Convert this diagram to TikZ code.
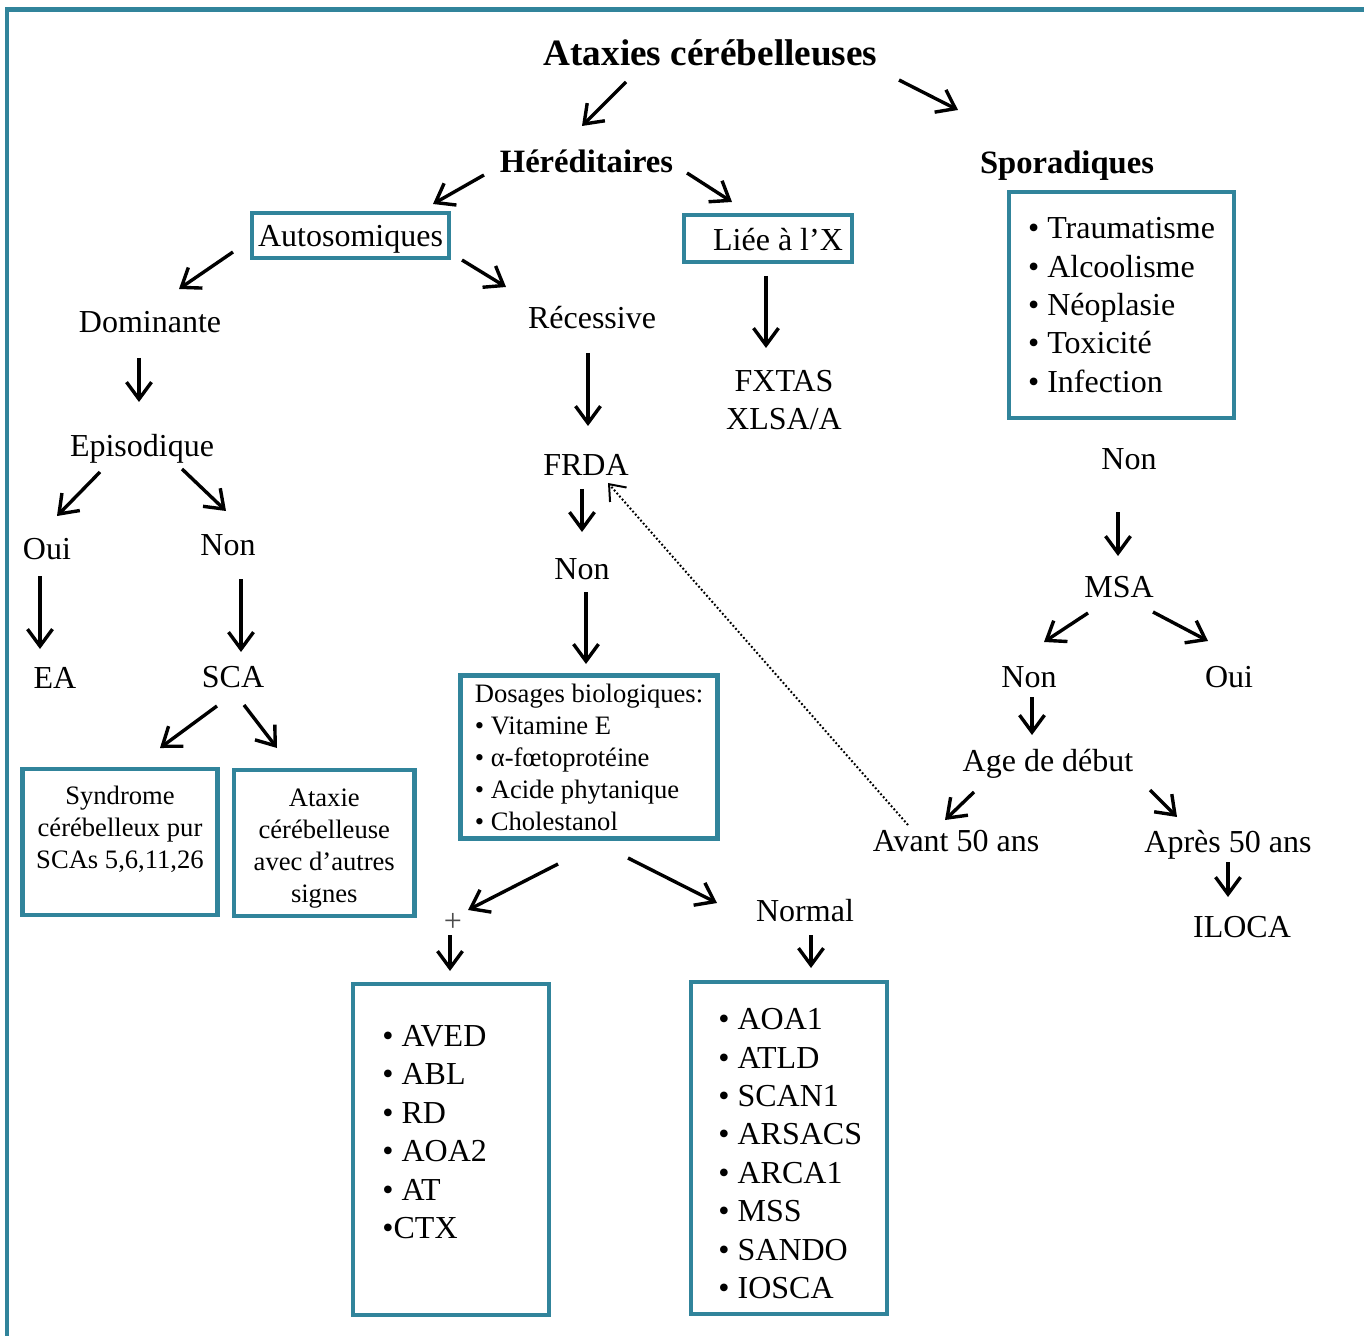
\documentclass[tikz,border=0pt]{standalone}
\usepackage{fontspec}
\setmainfont{Liberation Serif}
\usetikzlibrary{arrows.meta,calc}
\definecolor{framecol}{HTML}{31849B}

\begin{document}
\begin{tikzpicture}[x=0.5pt,y=-0.5pt,
    txt/.style={font=\fontsize{16}{19.2}\selectfont, align=center, inner sep=0pt, text depth=0pt},
    small/.style={font=\fontsize{13.3}{16}\selectfont, align=center, inner sep=0pt},
    head/.style={font=\fontsize{16.3}{20}\selectfont\bfseries, inner sep=0pt, text depth=0pt},
    box/.style={draw=framecol, line width=2.2pt, inner sep=0pt},
    arr/.style={-{Straight Barb[length=8.5pt,width=12.5pt]}, line width=1.7pt},
    hint/.style={-{Straight Barb[length=7pt,width=11pt]}, line width=1pt, dash pattern=on 0.9pt off 1.1pt}]

    \useasboundingbox (0,0) rectangle (1364,1336);

    % Outer frame (top and left only)
    \draw[framecol, line width=2.25pt] (7,1336) -- (7,9.5) -- (1364,9.5);

    % Top levels
    \node[font=\fontsize{18.6}{22}\selectfont\bfseries, inner sep=0pt] (title) at (710.5,53) {Ataxies cérébelleuses};
    \node[head] (her) at (586.5,161) {Héréditaires};
    \node[head] (spor) at (1067,162) {Sporadiques};

    % Hereditary branch
    \node[box, txt, minimum width=98.5pt, minimum height=22.5pt] (autos) at (350.5,235.5) {Autosomiques};
    \node[box, minimum width=84pt, minimum height=23.5pt] (lieebox) at (768,238.5) {};
    \node[txt] (lieetxt) at (778,239) {Liée à l’X};
    \node[txt] (dom) at (150,322) {Dominante};
    \node[txt] (rec) at (592,317) {Récessive};
    \node[txt] (fxtas) at (784,400) {FXTAS\\XLSA/A};
    \node[txt] (epis) at (142,445) {Episodique};
    \node[txt] (frda) at (586,465) {FRDA};
    \node[txt] (oui1) at (47,549) {Oui};
    \node[txt] (non1) at (228,545) {Non};
    \node[txt] (non2) at (582,569) {Non};
    \node[txt] (ea) at (55,678) {EA};
    \node[txt] (sca) at (233,677) {SCA};

    \node[box, minimum width=97.5pt, minimum height=73pt] (synd) at (120,842) {};
    \node[small] (syndtxt) at (120,829) {Syndrome\\cérébelleux pur\\SCAs 5,6,11,26};
    \node[box, minimum width=90.25pt, minimum height=73pt] (atax) at (324.25,843) {};
    \node[small] (ataxtxt) at (324.25,849) {Ataxie\\cérébelleuse\\avec d’autres\\signes};

    \node[box, small, align=left, minimum width=128.5pt, minimum height=81.5pt] (dosages) at (589,757)
        {Dosages biologiques:\\• Vitamine E\\• α-fœtoprotéine\\• Acide phytanique\\• Cholestanol};
    \node[txt, text=black!70] (plus) at (453,922) {+};
    \node[txt] (normal) at (805,910) {Normal};

    \node[box, minimum width=98pt, minimum height=165.5pt] (aved) at (451,1149.5) {};
    \node[txt, align=left, anchor=west] (avedtxt) at (382,1132) {• AVED\\• ABL\\• RD\\• AOA2\\• AT\\•CTX};
    \node[box, minimum width=98pt, minimum height=166pt] (normbox) at (789,1148) {};
    \node[txt, align=left, anchor=west] (normtxt) at (718,1153.5)
        {• AOA1\\• ATLD\\• SCAN1\\• ARSACS\\• ARCA1\\• MSS\\• SANDO\\• IOSCA};

    % Sporadic branch
    \node[box, txt, align=left, minimum width=112.5pt, minimum height=113pt] (sporbox) at (1121.5,305)
        {• Traumatisme\\• Alcoolisme\\• Néoplasie\\• Toxicité\\• Infection};
    \node[txt] (non3) at (1129,459) {Non};
    \node[txt] (msa) at (1119,587) {MSA};
    \node[txt] (non4) at (1029,677) {Non};
    \node[txt] (oui2) at (1229,677) {Oui};
    \node[txt] (age) at (1048,760) {Age de début};
    \node[txt] (avant) at (956,841) {Avant 50 ans};
    \node[txt] (apres) at (1228,841) {Après 50 ans};
    \node[txt] (iloca) at (1242,927) {ILOCA};

    % Arrows
    \draw[arr] ($(title.center)+(-84.5,29)$) -- ($(her.center)+(-4.5,-35)$);
    \draw[arr] ($(title.center)+(188.5,27)$) -- ($(spor.center)+(-109,-52)$);
    \draw[arr] ($(her.center)+(100.5,12)$) -- ($(lieebox.center)+(-36,-36.5)$);
    \draw[arr] ($(her.center)+(-102.5,14)$) -- ($(autos.center)+(82.5,-31.5)$);
    \draw[arr] ($(autos.center)+(-117.5,16.5)$) -- ($(dom.center)+(29,-33)$);
    \draw[arr] ($(autos.center)+(111.5,24.5)$) -- ($(rec.center)+(-86,-30)$);
    \draw[arr] ($(dom.center)+(-11,36)$) -- ($(epis.center)+(-3,-43)$);
    \draw[arr] ($(rec.center)+(-4,36)$) -- ($(frda.center)+(2,-39)$);
    \draw[arr] ($(lieebox.center)+(-2,37.5)$) -- ($(fxtas.center)+(-18,-52)$);
    \draw[arr] ($(epis.center)+(-42,27)$) -- ($(oui1.center)+(10,-33)$);
    \draw[arr] ($(epis.center)+(40,24)$) -- ($(non1.center)+(-2,-34)$);
    \draw[arr] ($(oui1.center)+(-7,27)$) -- ($(ea.center)+(-15,-29)$);
    \draw[arr] ($(non1.center)+(13,34)$) -- ($(sca.center)+(8,-25)$);
    \draw[arr] ($(frda.center)+(-4,24)$) -- ($(non2.center)+(0,-37)$);
    \draw[arr] ($(non2.center)+(4,23)$) -- ($(dosages.center)+(-3,-93)$);
    \draw[arr] ($(sca.center)+(-16,29)$) -- ($(synd.center)+(40,-94)$);
    \draw[arr] ($(sca.center)+(11,28)$) -- ($(atax.center)+(-47.25,-95)$);
    \draw[arr] ($(dosages.center)+(-31,107)$) -- ($(plus.center)+(15,-12)$);
    \draw[arr] ($(dosages.center)+(39,101)$) -- ($(normal.center)+(-88,-7)$);
    \draw[arr] ($(plus.center)+(-3,13)$) -- ($(aved.center)+(-1,-178.5)$);
    \draw[arr] ($(normal.center)+(6,25)$) -- ($(normbox.center)+(22,-180)$);
    \draw[arr] ($(non3.center)+(-11,53)$) -- ($(msa.center)+(-1,-31)$);
    \draw[arr] ($(msa.center)+(-31,26)$) -- ($(non4.center)+(15,-35)$);
    \draw[arr] ($(msa.center)+(34,25)$) -- ($(oui2.center)+(-21,-36)$);
    \draw[arr] ($(non4.center)+(3,20)$) -- ($(age.center)+(-16,-25)$);
    \draw[arr] ($(age.center)+(-74,32)$) -- ($(avant.center)+(-11,-21)$);
    \draw[arr] ($(age.center)+(102,30)$) -- ($(apres.center)+(-51,-24)$);
    \draw[arr] ($(apres.center)+(0,21)$) -- ($(iloca.center)+(-14,-30)$);

    % Dotted link back to FRDA
    \draw[hint] ($(avant.center)+(-48,-16)$) -- ($(frda.center)+(22,18)$);

\end{tikzpicture}
\end{document}
